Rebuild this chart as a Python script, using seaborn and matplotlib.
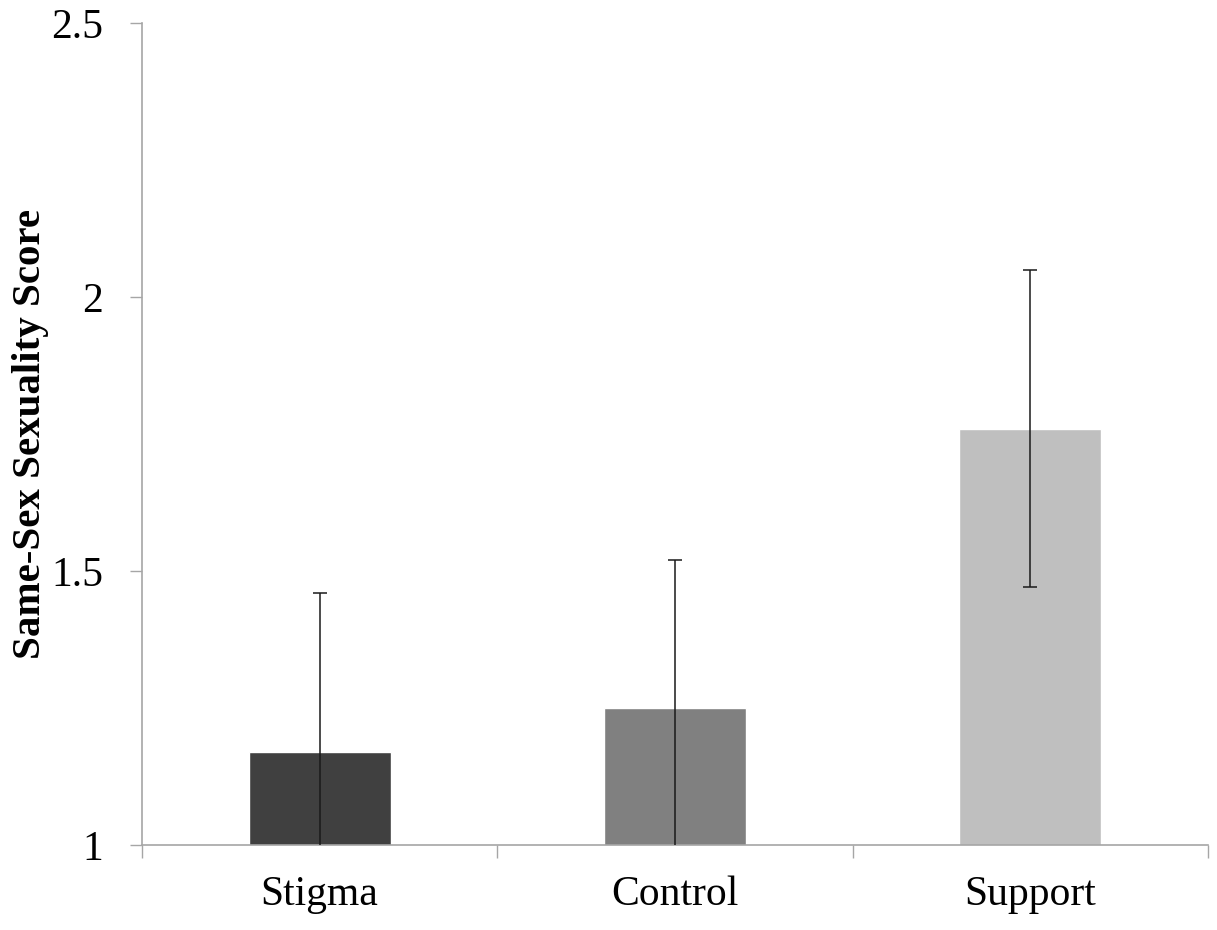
import matplotlib
matplotlib.use("Agg")
import matplotlib.pyplot as plt
import seaborn as sns
import pandas as pd
from matplotlib.ticker import FixedLocator, NullFormatter

conditions = ["Stigma", "Control", "Support"]
means = [1.17, 1.25, 1.76]
errors = [0.29, 0.27, 0.29]
bar_colors = ["#404040", "#808080", "#bfbfbf"]
y_ticks = [1, 1.5, 2, 2.5]
y_tick_labels = ["1", "1.5", "2", "2.5"]

df = pd.DataFrame({"Condition": conditions, "Score": means})

sns.set_theme(style="white")
plt.rcParams["font.family"] = ["Liberation Serif", "DejaVu Serif"]
plt.rcParams["text.color"] = "black"
plt.rcParams["axes.labelcolor"] = "black"
plt.rcParams["xtick.labelcolor"] = "black"
plt.rcParams["ytick.labelcolor"] = "black"

fig = plt.figure(figsize=(12.17, 9.3), dpi=100)
ax = fig.add_axes([0.1167, 0.0914, 0.8759, 0.8839])

sns.barplot(data=df, x="Condition", y="Score", hue="Condition",
            palette=bar_colors, width=0.4, errorbar=None, legend=False,
            saturation=1, ax=ax)
ax.errorbar(range(len(conditions)), means, yerr=errors, fmt="none",
            ecolor="#1a1a1a", elinewidth=1.1, capsize=5, capthick=1.1,
            zorder=5)

ax.set_ylim(1, 2.5)
ax.set_xlim(-0.5, 2.5)
ax.set_yticks(y_ticks)
ax.set_yticklabels(y_tick_labels, fontsize=30, color="black")

# Category ticks sit between bars; labels sit under the bars
ax.xaxis.set_major_locator(FixedLocator([-0.5, 0.5, 1.5, 2.5]))
ax.xaxis.set_major_formatter(NullFormatter())
ax.xaxis.set_minor_locator(FixedLocator([0, 1, 2]))
ax.set_xticklabels(conditions, minor=True, fontsize=30, color="black")
ax.tick_params(axis="x", which="major", direction="out", length=9,
               width=1, color="#a6a6a6", bottom=True)
ax.tick_params(axis="x", which="minor", length=0, pad=22, labelsize=30)
ax.tick_params(axis="y", direction="out", length=9, width=1,
               color="#a6a6a6", left=True, pad=19, labelsize=30)

ax.set_xlabel("")
ax.set_ylabel("Same-Sex Sexuality Score", fontsize=29.5, fontweight="bold",
              va="center", color="black")
ax.yaxis.set_label_coords(-0.105, 0.5)

for side in ["top", "right"]:
    ax.spines[side].set_visible(False)
for side in ["left", "bottom"]:
    ax.spines[side].set_color("#a6a6a6")
    ax.spines[side].set_linewidth(1.2)

fig.savefig("out.png", dpi=100)
